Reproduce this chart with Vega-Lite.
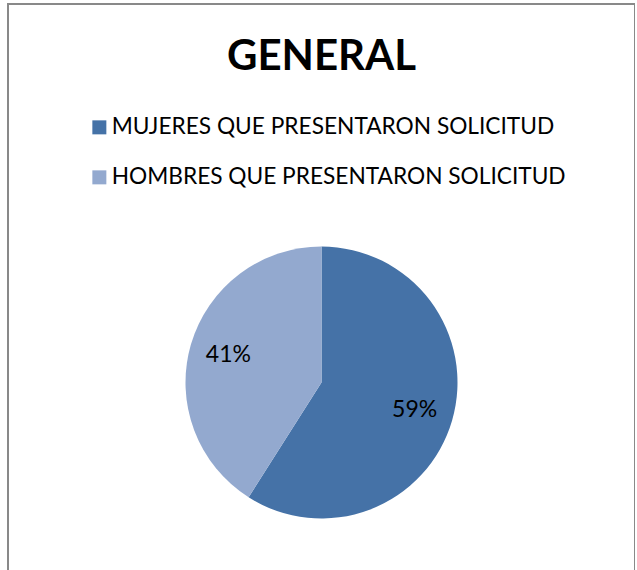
{
  "$schema": "https://vega.github.io/schema/vega-lite/v6.json",
  "width": 627,
  "height": 757,
  "autosize": {"type": "none"},
  "padding": {"left": 8, "top": 4, "right": 0, "bottom": 0},
  "background": "white",
  "view": {"stroke": "#898989", "strokeWidth": 2, "fill": "white"},
  "title": {
    "text": "GENERAL",
    "font": "Lato",
    "fontSize": 42,
    "fontWeight": "bold",
    "color": "#000000",
    "anchor": "middle",
    "baseline": "alphabetic",
    "frame": "group",
    "offset": 0,
    "dy": 108
  },
  "config": {"view": {"stroke": "#898989", "strokeWidth": 2}},
  "data": {
    "values": [
      {"categoria": "MUJERES QUE PRESENTARON SOLICITUD", "porcentaje": 59, "orden": 1, "etiqueta": "59%"},
      {"categoria": "HOMBRES QUE PRESENTARON SOLICITUD", "porcentaje": 41, "orden": 2, "etiqueta": "41%"}
    ]
  },
  "encoding": {
    "theta": {"field": "porcentaje", "type": "quantitative", "stack": true},
    "order": {"field": "orden", "type": "quantitative"}
  },
  "layer": [
    {
      "mark": {"type": "arc", "outerRadius": 136},
      "encoding": {
        "color": {
          "field": "categoria",
          "type": "nominal",
          "scale": {
            "domain": ["MUJERES QUE PRESENTARON SOLICITUD", "HOMBRES QUE PRESENTARON SOLICITUD"],
            "range": ["#4572A7", "#93A9CF"]
          },
          "legend": {
            "title": null,
            "orient": "none",
            "legendX": 75,
            "legendY": 107,
            "padding": 5,
            "symbolType": "square",
            "symbolSize": 196,
            "symbolStrokeWidth": 0,
            "labelFont": "Lato",
            "labelFontSize": 22.7,
            "labelColor": "#000000",
            "labelOffset": 1,
            "labelLimit": 0,
            "rowPadding": 26
          }
        }
      }
    },
    {
      "mark": {"type": "text", "radius": 97, "font": "Lato", "fontSize": 23, "color": "#000000"},
      "encoding": {
        "detail": {"field": "categoria", "type": "nominal"},
        "text": {"field": "etiqueta", "type": "nominal"}
      }
    }
  ]
}
